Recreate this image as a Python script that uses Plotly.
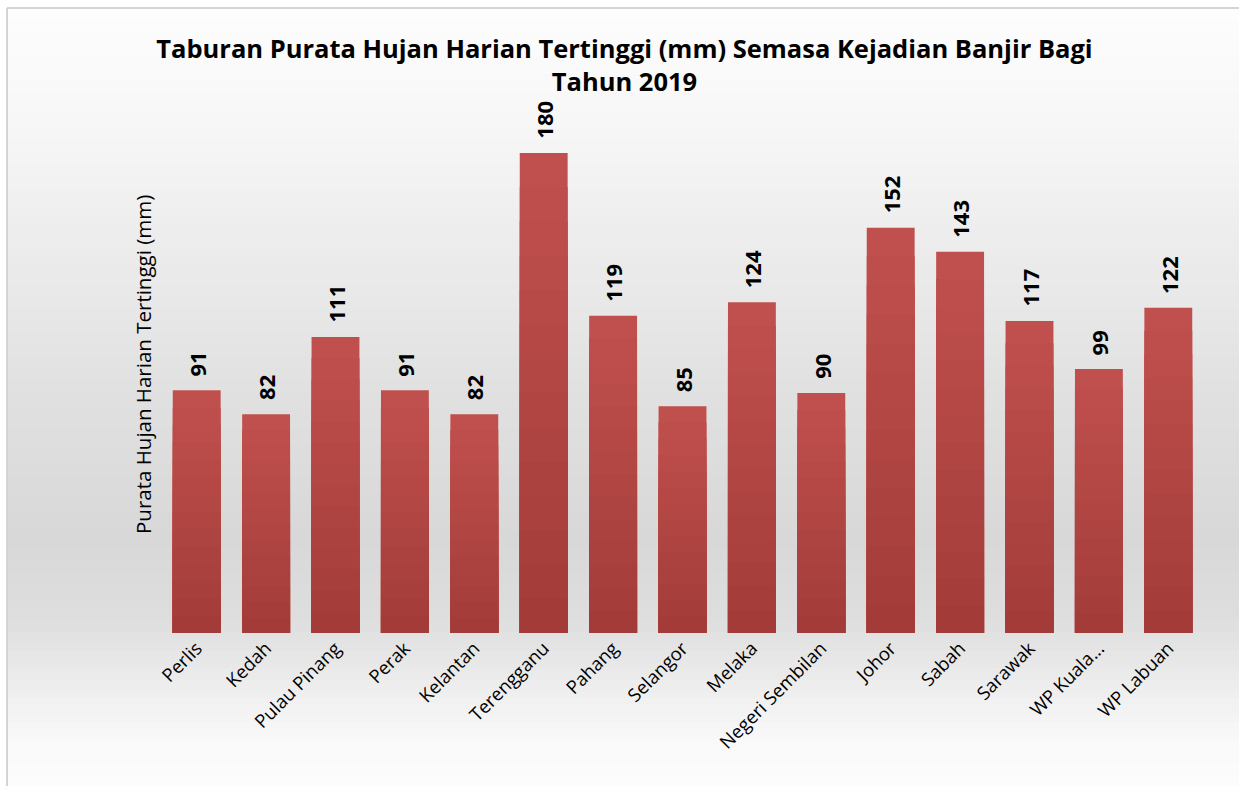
import plotly.graph_objects as go

# ---- data ----
states = ["Perlis", "Kedah", "Pulau Pinang", "Perak", "Kelantan", "Terengganu",
          "Pahang", "Selangor", "Melaka", "Negeri Sembilan", "Johor", "Sabah",
          "Sarawak", "WP Kuala...", "WP Labuan"]
rainfall = [91, 82, 111, 91, 82, 180, 119, 85, 124, 90, 152, 143, 117, 99, 122]

title_text = "Taburan Purata Hujan Harian Tertinggi (mm) Semasa Kejadian Banjir Bagi<br>Tahun 2019"
ytitle = "Purata Hujan Harian Tertinggi (mm)"

# ---- layout geometry (pixels) ----
W, H = 1239, 786
ML, MR, MT, MB = 162, 36, 110, 153
PW, PH = W - ML - MR, H - MT - MB


def px_to_paper_x(px):
    return (px - ML) / PW


def px_to_paper_y(py):
    return (H - MB - py) / PH


fig = go.Figure()

# bars with a vertical gradient per bar (overlaid, shrinking, darker toward base)
top_rgb = (192, 80, 77)
bot_rgb = (163, 60, 57)
N = 14
for k in range(N):
    t = k / (N - 1)
    c = tuple(round(top_rgb[i] + (bot_rgb[i] - top_rgb[i]) * t) for i in range(3))
    frac = 1 - k / N
    fig.add_trace(go.Bar(
        x=states,
        y=[v * frac for v in rainfall],
        marker=dict(color="rgb(%d,%d,%d)" % c, line=dict(width=0)),
        hoverinfo="skip" if k else None,
        showlegend=False,
    ))

# value labels
for s, v in zip(states, rainfall):
    fig.add_annotation(
        x=s, y=v, text="<b>%d</b>" % v, textangle=-90,
        showarrow=False, yanchor="bottom", yshift=12,
        font=dict(family="Open Sans", size=22, color="#000000"),
    )

# y-axis title
fig.add_annotation(
    x=px_to_paper_x(143), y=px_to_paper_y(365), xref="paper", yref="paper",
    xanchor="center", yanchor="middle",
    text=ytitle, textangle=-90, showarrow=False,
    font=dict(family="Open Sans", size=20.5, color="#000000"),
)

# background gradient strips
stops = [(8, 253), (120, 247), (250, 236), (400, 224), (540, 216), (620, 222),
         (680, 236), (740, 249), (786, 252)]


def gray_at(py):
    for (y0, g0), (y1, g1) in zip(stops[:-1], stops[1:]):
        if y0 <= py <= y1:
            return g0 + (g1 - g0) * (py - y0) / (y1 - y0)
    return stops[-1][1]


step = 6
py = 8
while py < H:
    g = round(gray_at(py + step / 2))
    fig.add_shape(
        type="rect", xref="paper", yref="paper", layer="below",
        x0=px_to_paper_x(7), x1=px_to_paper_x(W + 2),
        y0=px_to_paper_y(py), y1=px_to_paper_y(min(py + step + 0.5, H + 2)),
        fillcolor="rgb(%d,%d,%d)" % (g, g, g), line=dict(width=0),
    )
    py += step

# border lines (left and top)
fig.add_shape(type="line", xref="paper", yref="paper", layer="above",
              x0=px_to_paper_x(7), x1=px_to_paper_x(7),
              y0=px_to_paper_y(8), y1=px_to_paper_y(H + 2),
              line=dict(color="#D4D4D4", width=2))
fig.add_shape(type="line", xref="paper", yref="paper", layer="above",
              x0=px_to_paper_x(7), x1=px_to_paper_x(W + 2),
              y0=px_to_paper_y(8), y1=px_to_paper_y(8),
              line=dict(color="#D4D4D4", width=2))

fig.update_layout(
    width=W, height=H,
    margin=dict(l=ML, r=MR, t=MT, b=MB, autoexpand=False),
    paper_bgcolor="white", plot_bgcolor="rgba(0,0,0,0)",
    barmode="overlay", bargap=0.31,
    title=dict(text="<b>" + title_text + "</b>", x=0.504, xanchor="center",
               y=1 - 58 / H, yanchor="top",
               font=dict(family="Open Sans", size=25.5, color="#000000")),
    xaxis=dict(showline=False, showgrid=False, zeroline=False, ticks="",
               tickangle=-45, tickfont=dict(family="Open Sans", size=18.5, color="#000000")),
    yaxis=dict(range=[0, PH / (480 / 180)], showticklabels=False, showgrid=False,
               zeroline=False, showline=False, ticks=""),
    font=dict(family="Open Sans"),
)

fig.write_html("out.html", config={"displayModeBar": False},
               post_script="document.body.style.margin='0px';")
